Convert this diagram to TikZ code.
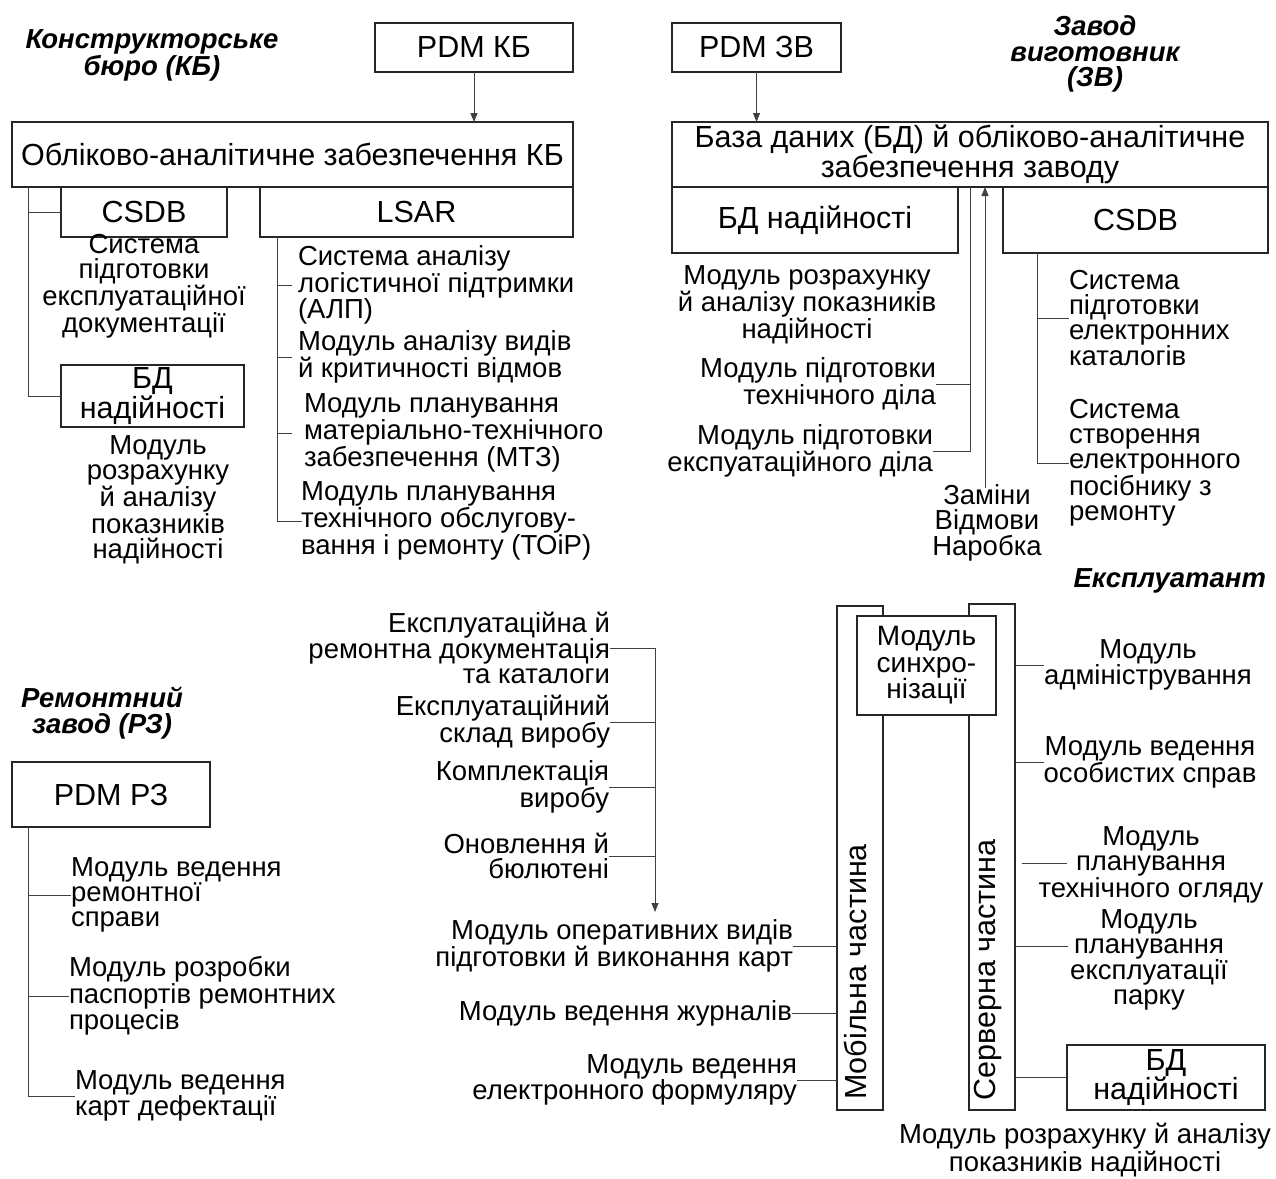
\documentclass[tikz,border=0pt]{standalone}
\usepackage{fontspec}
\setmainfont{Liberation Sans}
\usetikzlibrary{arrows.meta}
\begin{document}
\begin{tikzpicture}[x=1pt,y=-1pt,
  every node/.style={inner sep=0pt, outer sep=0pt, font=\fontsize{27.5}{25}\selectfont},
  box/.style={draw=black!85, line width=1.1pt, fill=white, font=\fontsize{30.5}{26}\selectfont},
  link/.style={draw=black!75, line width=0.9pt},
  arr/.style={link, -{Triangle[length=9pt,width=7pt]}},
  title/.style={font=\fontsize{27.5}{25.5}\selectfont\bfseries\itshape, align=center},
  lbl/.style={align=center},
  lblL/.style={align=left},
  lblR/.style={align=right},
  coltext/.style={rotate=90, font=\fontsize{30.5}{30}\selectfont}
]
\useasboundingbox (0,0) rectangle (1276,1178);

% ---------- design bureau ----------
\node[title] (kbtitle) at (152,55) {Конструкторське\\бюро (КБ)};
\node[box, minimum width=198pt, minimum height=49pt] (pdmkb) at (474,47.5) {PDM КБ};
\node[box, minimum width=561pt, minimum height=65pt] (kbmain) at (292.5,154.5) {Обліково-аналітичне забезпечення КБ};
\node[box, minimum width=166pt, minimum height=50pt] (csdbkb) at (144,212) {CSDB};
\node[box, minimum width=313pt, minimum height=50pt] (lsar) at (416.5,212) {LSAR};
\node[lbl] (kbdoc) at (144,286) {Система\\підготовки\\експлуатаційної\\документації};
\node[box, align=center, minimum width=183pt, minimum height=62pt] (bdkb) at (152.5,396) {БД\\надійності};
\node[lbl] (kbcalc) at (158,500) {Модуль\\розрахунку\\й аналізу\\показників\\надійності};
\node[lblL, anchor=west] (alp) at (298,285) {Система аналізу\\логістичної підтримки\\(АЛП)};
\node[lblL, anchor=west] (fmeca) at (298,357) {Модуль аналізу видів\\й критичності відмов};
\node[lblL, anchor=west] (mtz) at (304,433) {Модуль планування\\матеріально-технічного\\забезпечення (МТЗ)};
\node[lblL, anchor=west] (toir) at (301,521) {Модуль планування\\технічного обслугову-\\вання і ремонту (ТОіР)};

\draw[arr] (pdmkb.south) -- (pdmkb.south |- kbmain.north);
\coordinate (kbbus) at (28,187);
\draw[link] (kbbus) |- (bdkb.west);
\draw[link] (kbbus |- csdbkb.west) -- (csdbkb.west);
\coordinate (lsarbus) at (277,237);
\draw[link] (lsarbus) |- ([xshift=1pt]toir.west);
\draw[link] (lsarbus |- alp.west) -- ++(15,0);
\draw[link] (lsarbus |- fmeca.west) -- ++(15,0);
\draw[link] (lsarbus |- mtz.west) -- ++(15,0);

% ---------- manufacturer ----------
\node[title] (zvtitle) at (1095,54) {Завод\\виготовник\\(ЗВ)};
\node[box, minimum width=169pt, minimum height=49pt] (pdmzv) at (756.5,47.5) {PDM ЗВ};
\node[box, align=center, minimum width=596pt, minimum height=65pt] (zvmain) at (970,154.5) {База даних (БД) й обліково-аналітичне\\забезпечення заводу};
\node[box, minimum width=286pt, minimum height=66pt] (bdzv) at (815,220) {БД надійності};
\node[box, minimum width=265pt, minimum height=66pt] (csdbzv) at (1135.5,220) {CSDB};
\node[lbl] (zvcalc) at (807,305) {Модуль розрахунку\\й аналізу показників\\надійності};
\node[lblR, anchor=east] (techdilo) at (936,384) {Модуль підготовки\\технічного діла};
\node[lblR, anchor=east] (expdilo) at (933,451) {Модуль підготовки\\експуатаційного діла};
\node[lbl] (stats) at (987,523) {Заміни\\Відмови\\Наробка};
\node[lblL, anchor=west] (ecat) at (1069,318) {Система\\підготовки\\електронних\\каталогів};
\node[lblL, anchor=west] (erep) at (1069,463) {Система\\створення\\електронного\\посібнику з\\ремонту};

\draw[arr] (pdmzv.south) -- (pdmzv.south |- zvmain.north);
\coordinate (zvbus) at (970,187);
\draw[link] (zvbus) |- (expdilo.east);
\draw[link] (zvbus |- techdilo.east) -- (techdilo.east);
\coordinate (feed) at (985,488);
\draw[arr] (feed) -- (feed |- zvmain.south);
\coordinate (csdbbus) at (1037,253);
\draw[link] (csdbbus) |- (erep.west);
\draw[link] (csdbbus |- ecat.west) -- (ecat.west);

% ---------- operator ----------
\node[title, anchor=base east] (extitle) at (1266,587) {Експлуатант};
\node[box, minimum width=46pt, minimum height=504pt] (mobile) at (860,858) {};
\node[box, minimum width=46pt, minimum height=506pt] (server) at (992,857) {};
\node[box, align=center, minimum width=139pt, minimum height=99pt,
      font=\fontsize{28}{26.5}\selectfont] (sync) at (926.5,665.5) {Модуль\\синхро-\\нізації};
\node[coltext] (mobtxt) at (855,972) {Мобільна частина};
\node[coltext] (srvtxt) at (988,970) {Серверна частина};

\node[lblR, anchor=east] (docs) at (610,648) {Експлуатаційна й\\ремонтна документація\\та каталоги};
\node[lblR, anchor=east] (bom) at (610,722) {Експлуатаційний\\склад виробу};
\node[lblR, anchor=east] (kit) at (609,787) {Комплектація\\виробу};
\node[lblR, anchor=east] (upd) at (609,856) {Оновлення й\\бюлютені};
\coordinate (mbus) at (655,650);
\coordinate (mtarget) at (655,912);
\draw[link] (docs.east) -- (docs.east -| mbus);
\draw[link] (bom.east) -- (bom.east -| mbus);
\draw[link] (kit.east) -- (kit.east -| mbus);
\draw[link] (upd.east) -- (upd.east -| mbus);
\draw[arr] (docs.east -| mbus) -- (mtarget);

\node[lblR, anchor=east] (ops) at (793,946) {Модуль оперативних видів\\підготовки й виконання карт};
\node[anchor=east] (logs) at (792,1013) {Модуль ведення журналів};
\node[lblR, anchor=east] (form) at (797,1080) {Модуль ведення\\електронного формуляру};
\draw[link] (ops.east) -- (ops.east -| mobile.west);
\draw[link] (logs.east) -- (logs.east -| mobile.west);
\draw[link] (form.east) -- (form.east -| mobile.west);

\node[lbl] (admin) at (1148,665) {Модуль\\адміністрування};
\node[lbl] (persons) at (1150,762) {Модуль ведення\\особистих справ};
\node[lbl] (inspect) at (1151,865) {Модуль\\планування\\технічного огляду};
\node[lbl] (fleet) at (1149,960) {Модуль\\планування\\експлуатації\\парку};
\node[box, align=center, minimum width=198pt, minimum height=65pt] (bdex) at (1166,1077.5) {БД\\надійності};
\node[lbl] (excalc) at (1085,1150) {Модуль розрахунку й аналізу\\показників надійності};

\draw[link] (server.east |- admin.west) -- (admin.west);
\draw[link] (server.east |- persons.west) -- (persons.west);
\draw[link] ([xshift=7pt,yshift=2pt]server.east |- inspect.west) -- ++(45,0);
\draw[link] ([yshift=14pt]server.east |- fleet.west) -- ++(53,0);
\draw[link] (server.east |- bdex.west) -- (bdex.west);

% ---------- repair plant ----------
\node[title] (rztitle) at (102,713) {Ремонтний\\завод (РЗ)};
\node[box, minimum width=198pt, minimum height=65pt] (pdmrz) at (111,794.5) {PDM РЗ};
\node[lblL, anchor=west] (rzcase) at (71,895) {Модуль ведення\\ремонтної\\справи};
\node[lblL, anchor=west] (rzpass) at (69,996) {Модуль розробки\\паспортів ремонтних\\процесів};
\node[lblL, anchor=west] (rzdef) at (75,1096) {Модуль ведення\\карт дефектації};
\coordinate (rzbus) at (28,827);
\draw[link] (rzbus) |- (rzdef.west);
\draw[link] (rzbus |- rzcase.west) -- (rzcase.west);
\draw[link] (rzbus |- rzpass.west) -- (rzpass.west);
\end{tikzpicture}
\end{document}
